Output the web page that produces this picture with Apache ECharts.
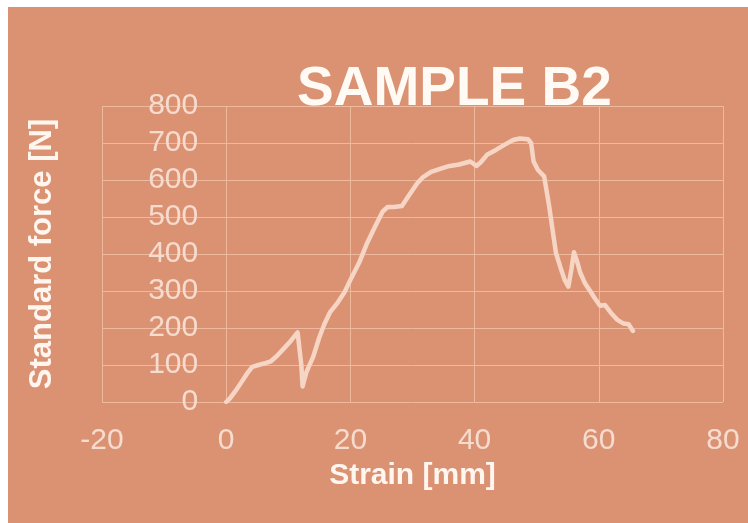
<!DOCTYPE html>
<html>
<head>
<meta charset="utf-8">
<script src="https://cdn.jsdelivr.net/npm/echarts@6/dist/echarts.min.js"></script>
<style>
  html, body { margin: 0; padding: 0; background: #ffffff; }
  #panel { position: absolute; left: 8px; top: 7px; right: 0; bottom: 0; background: #db9273; }
  #chart { position: absolute; left: 0; top: 0; width: 748px; height: 523px; }
</style>
</head>
<body>
<div id="panel"></div>
<div id="chart"></div>
<script>
// Tensile test record, sample B2: strain (mm) against standard force (N)
const strainMm = [0, 0.6, 1.5, 2.5, 3.4, 4.2, 5.2, 6.3, 7.2, 8.2, 9.3, 10.4, 11.5, 12.1, 12.3,
  12.9, 14, 15, 15.8, 16.7, 17.8, 19, 20, 21.5, 22.7, 24, 25.2, 26, 27, 28.3, 29.5, 30.7,
  31.7, 33, 34.8, 36, 37.5, 39.3, 40.3, 41, 42, 43.5, 45, 46.2, 47.3, 48.6, 49.1, 49.5,
  50.2, 51.2, 52, 52.6, 53.1, 53.8, 54.5, 55.1, 55.6, 56, 56.5, 57, 57.8, 58.6, 59.3,
  60.2, 61, 62, 63, 64, 64.8, 65.5];
const forceN = [0, 10, 30, 55, 78, 95, 100, 105, 110, 125, 145, 165, 188, 100, 42,
  80, 122, 175, 210, 242, 265, 295, 330, 380, 430, 475, 515, 527, 527, 530, 560, 590,
  608, 622, 632, 638, 642, 650, 638, 648, 668, 682, 697, 708, 712, 710, 700, 650,
  627, 610, 530, 460, 403, 365, 330, 312, 360, 405, 380, 350, 320, 300, 282,
  260, 262, 240, 222, 212, 210, 192];

// Axis ranges and tick steps
const strainRange = [-20, 80];
const strainStep = 20;
const forceRange = [0, 800];
const forceStep = 100;

const chartTitle = 'SAMPLE B2';
const strainName = 'Strain [mm]';
const forceName = 'Standard force [N]';

const gridColor = '#efb99e';
const tickColor = '#f6dccf';
const nameColor = '#fff6f0';
const curveColor = '#f6d5c5';
const font = 'Liberation Sans, Arial, sans-serif';

const gridLeft = 102;

const chart = echarts.init(document.getElementById('chart'), null, { renderer: 'canvas' });

chart.setOption({
  backgroundColor: 'transparent',
  animation: false,
  title: {
    text: chartTitle,
    left: 292,
    top: 57,
    textStyle: { fontFamily: font, fontSize: 55, fontWeight: 'bold', color: '#fffaf4' }
  },
  grid: {
    left: gridLeft, right: 25, top: 106, bottom: 121,
    containLabel: false,
    outerBoundsMode: 'none'
  },
  xAxis: {
    type: 'value',
    min: strainRange[0],
    max: strainRange[1],
    interval: strainStep,
    name: strainName,
    nameLocation: 'middle',
    nameGap: 44,
    nameTextStyle: { fontFamily: font, fontSize: 30, fontWeight: 'bold', color: nameColor },
    axisLine: { show: false },
    axisTick: { show: false },
    axisLabel: { margin: 24, fontFamily: font, fontSize: 30, color: tickColor },
    splitLine: { show: true, lineStyle: { color: gridColor, width: 1 } }
  },
  yAxis: {
    type: 'value',
    min: forceRange[0],
    max: forceRange[1],
    interval: forceStep,
    offset: 0,
    name: forceName,
    nameLocation: 'middle',
    nameGap: 168,
    nameTextStyle: { fontFamily: font, fontSize: 31, fontWeight: 'bold', color: nameColor },
    axisLine: { show: false, onZero: false },
    axisTick: { show: false },
    axisLabel: { margin: 28, fontFamily: font, fontSize: 30, color: tickColor },
    splitLine: { show: true, lineStyle: { color: gridColor, width: 1 } }
  },
  series: [{
    type: 'line',
    data: strainMm.map((s, i) => [s, forceN[i]]),
    showSymbol: false,
    smooth: false,
    lineStyle: { color: curveColor, width: 4.5, join: 'round', cap: 'round' },
    emphasis: { disabled: true }
  }]
});

// The force axis crosses the strain axis at zero strain: shift it there
const zeroStrainPx = chart.convertToPixel({ xAxisIndex: 0 }, 0);
chart.setOption({ yAxis: { offset: gridLeft - zeroStrainPx } });
</script>
</body>
</html>
